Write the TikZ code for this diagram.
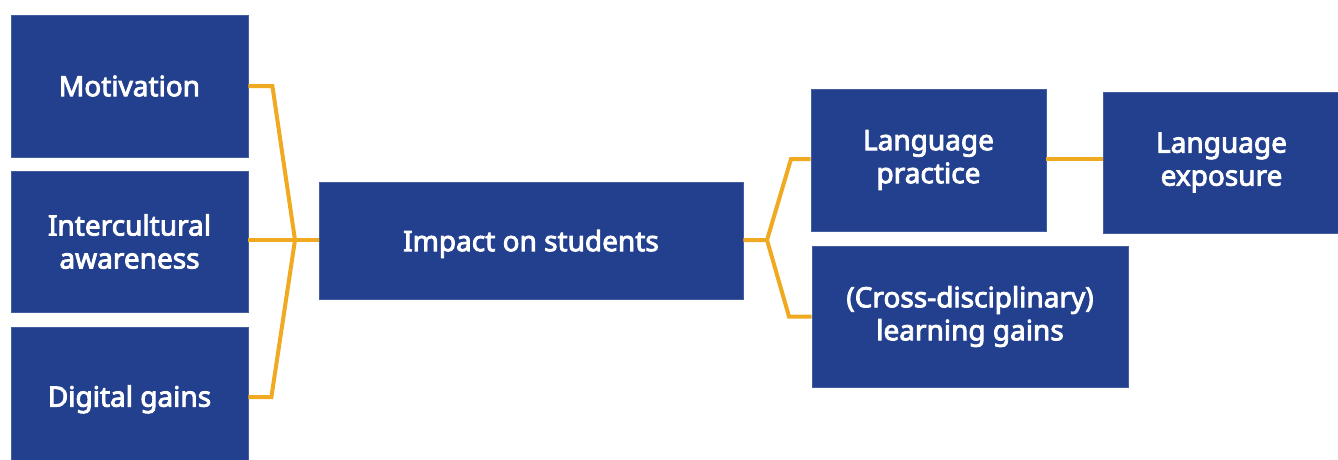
\documentclass[tikz,border=0pt]{standalone}
\usepackage{fontspec}
\setmainfont{Noto Sans}
\newfontfamily\boxfont{Noto Sans}[FakeBold=3]
\definecolor{boxblue}{HTML}{23408E}
\definecolor{linkor}{HTML}{EFAA22}
\begin{document}
\begin{tikzpicture}[x=1pt,y=-1pt,
  blk/.style={draw=boxblue!85!white,line width=0.8pt,fill=boxblue,text=white,align=center,inner sep=0pt,
    font=\boxfont\fontsize{28}{33}\selectfont},
  link/.style={draw=linkor,line width=4pt,line join=miter}]
\useasboundingbox (0,0) rectangle (1338,459);
\node[blk,minimum width=237,minimum height=142] (mot) at (129.5,86) {Motivation};
\node[blk,minimum width=237,minimum height=141] (inter) at (129.5,241.5) {Intercultural\\awareness};
\node[blk,minimum width=237,minimum height=140,text depth=2pt] (dig) at (129.5,397) {Digital gains};
\node[blk,minimum width=424,minimum height=117,text depth=0pt] (impact) at (531,240.5) {Impact on students};
\node[blk,minimum width=235,minimum height=142] (lp) at (928.5,160) {Language\\practice};
\node[blk,minimum width=237,minimum height=141] (le) at (1221.5,162.5) {Language\\exposure};
\node[blk,minimum width=316,minimum height=141] (cd) at (970,316.5) {(Cross-disciplinary)\\learning gains};
\coordinate (j1) at (295,240);
\coordinate (j2) at (767,240);
\draw[link] (mot.east) -- ++(24,0) -- (j1);
\draw[link] (dig.east) -- ++(23,0) -- (j1);
\draw[link] (inter.east |- j1) -- (j1) -- (impact.west |- j1);
\draw[link] (impact.east |- j2) -- (j2) -- (791,159) -- (lp.west |- 0,159);
\draw[link] (j2) -- (789,316.5) -- (cd.west);
\draw[link] (lp.east |- 0,159) -- (le.west |- 0,159);
\end{tikzpicture}
\end{document}
